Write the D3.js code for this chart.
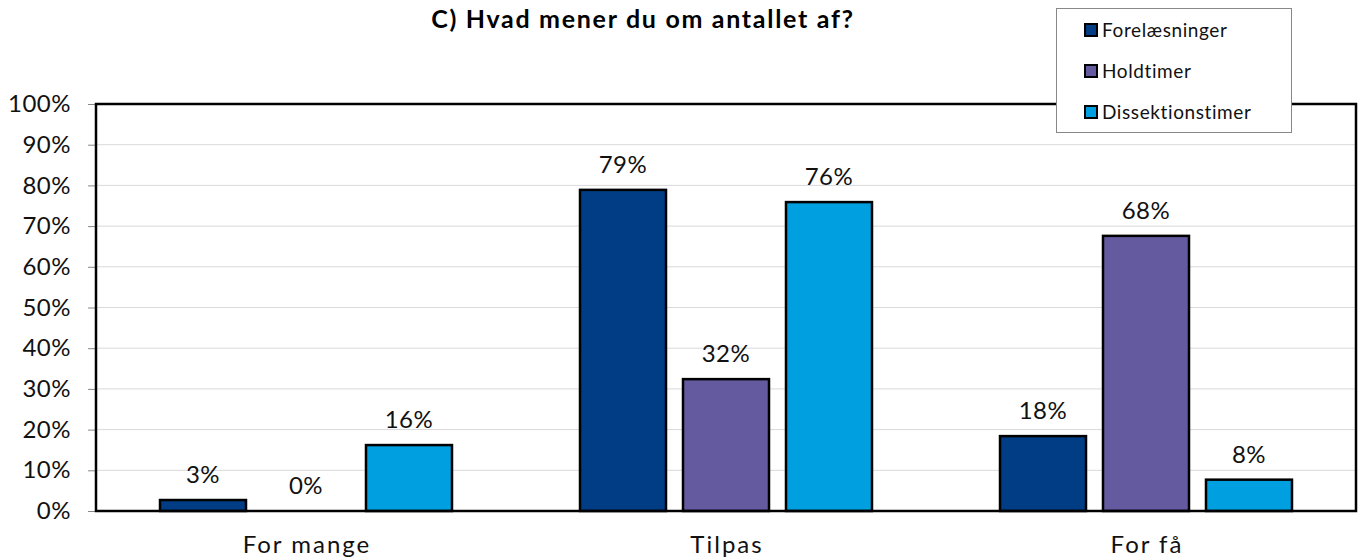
<!DOCTYPE html>
<html><head><meta charset="utf-8">
<script src="https://cdn.jsdelivr.net/npm/d3@7"></script>
<style>body{margin:0;background:#fff}svg{display:block}text{font-family:"Lato","Open Sans",sans-serif}</style>
</head><body><svg id="c" width="1361" height="560"></svg>
<script>
const categories = ["For mange", "Tilpas", "For få"];
const seriesNames = ["Forelæsninger", "Holdtimer", "Dissektionstimer"];
const forelaesninger = [2.7, 78.9, 18.4];
const holdtimer = [0, 32.4, 67.6];
const dissektionstimer = [16.2, 75.9, 7.7];
const labelsF = ["3%", "79%", "18%"];
const labelsH = ["0%", "32%", "68%"];
const labelsD = ["16%", "76%", "8%"];
const yTicks = [0,10,20,30,40,50,60,70,80,90,100];
const colors = ["#003D85", "#645A9F", "#009FE0"];
const title = "C) Hvad mener du om antallet af?";

const series = [
  {name: seriesNames[0], values: forelaesninger, labels: labelsF},
  {name: seriesNames[1], values: holdtimer, labels: labelsH},
  {name: seriesNames[2], values: dissektionstimer, labels: labelsD}
];

const svg = d3.select("#c");
const L = 96, R = 1356, T = 104, B = 511;
const x0 = d3.scaleBand().domain(categories).range([L, R]);
const bw = x0.bandwidth();
const x1 = d3.scaleBand().domain(seriesNames).range([bw*0.1524, bw*0.8476]).paddingInner(0.165).paddingOuter(0);
const y = d3.scaleLinear().domain([0, 100]).range([B, T]);

// gridlines
svg.append("g").selectAll("line").data(yTicks.filter(t => t > 0 && t < 100)).join("line")
  .attr("x1", L).attr("x2", R).attr("y1", d => y(d)).attr("y2", d => y(d))
  .attr("stroke", "#d9d9d9").attr("stroke-width", 1);

// y axis
const yAxis = d3.axisLeft(y).tickValues(yTicks).tickFormat(d => d + "%").tickSize(8).tickPadding(17);
const ya = svg.append("g").attr("transform", `translate(${L},0)`).call(yAxis);
ya.select(".domain").remove();
ya.selectAll(".tick line").attr("stroke", "#888");
ya.selectAll(".tick text").attr("font-size", 24).attr("letter-spacing", 0.5).attr("fill", "#111")
  .attr("font-family", "Lato, 'Open Sans', sans-serif");

// bars
const g = svg.append("g");
series.forEach((s, si) => {
  g.append("g").selectAll("rect").data(categories).join("rect")
    .attr("x", (c) => x0(c) + x1(s.name))
    .attr("width", x1.bandwidth())
    .attr("y", (c, i) => y(s.values[i]))
    .attr("height", (c, i) => B - y(s.values[i]))
    .attr("fill", colors[si])
    .attr("stroke", "#000")
    .attr("stroke-width", 2.5)
    .attr("visibility", (c, i) => s.values[i] > 0 ? "visible" : "hidden");
  g.append("g").selectAll("text").data(categories).join("text")
    .attr("x", (c) => x0(c) + x1(s.name) + x1.bandwidth()/2)
    .attr("y", (c, i) => y(s.values[i]) - 17)
    .attr("text-anchor", "middle").attr("font-size", 24).attr("letter-spacing", 0.5).attr("fill", "#111")
    .text((c, i) => s.labels[i]);
});

// plot border
svg.append("rect").attr("x", L).attr("y", T).attr("width", R - L).attr("height", B - T)
  .attr("fill", "none").attr("stroke", "#000").attr("stroke-width", 2.5);

// x axis labels
const xAxis = d3.axisBottom(x0).tickSize(0);
const xa = svg.append("g").attr("transform", `translate(0,${B})`).call(xAxis);
xa.select(".domain").remove();
xa.selectAll(".tick text").attr("y", 42).attr("dy", 0).attr("dx", 1).attr("font-size", 24).attr("letter-spacing", 2)
  .attr("fill", "#111").attr("font-family", "Lato, 'Open Sans', sans-serif");

// title
svg.append("text").attr("x", 643).attr("y", 28).attr("text-anchor", "middle")
  .attr("font-size", 25).attr("letter-spacing", 1.7).attr("font-weight", "bold").attr("fill", "#000").text(title);

// legend
const lg = svg.append("g");
lg.append("rect").attr("x", 1056.5).attr("y", 8.5).attr("width", 235).attr("height", 124)
  .attr("fill", "#fff").attr("stroke", "#888").attr("stroke-width", 1);
seriesNames.forEach((n, i) => {
  const cy = 30 + i * 41;
  lg.append("rect").attr("x", 1085).attr("y", cy - 6).attr("width", 12).attr("height", 12)
    .attr("fill", colors[i]).attr("stroke", "#000").attr("stroke-width", 2);
  lg.append("text").attr("x", 1102).attr("y", cy).attr("dy", "0.35em")
    .attr("font-size", 19).attr("letter-spacing", 0.6).attr("fill", "#111").text(n);
});
</script></body></html>
